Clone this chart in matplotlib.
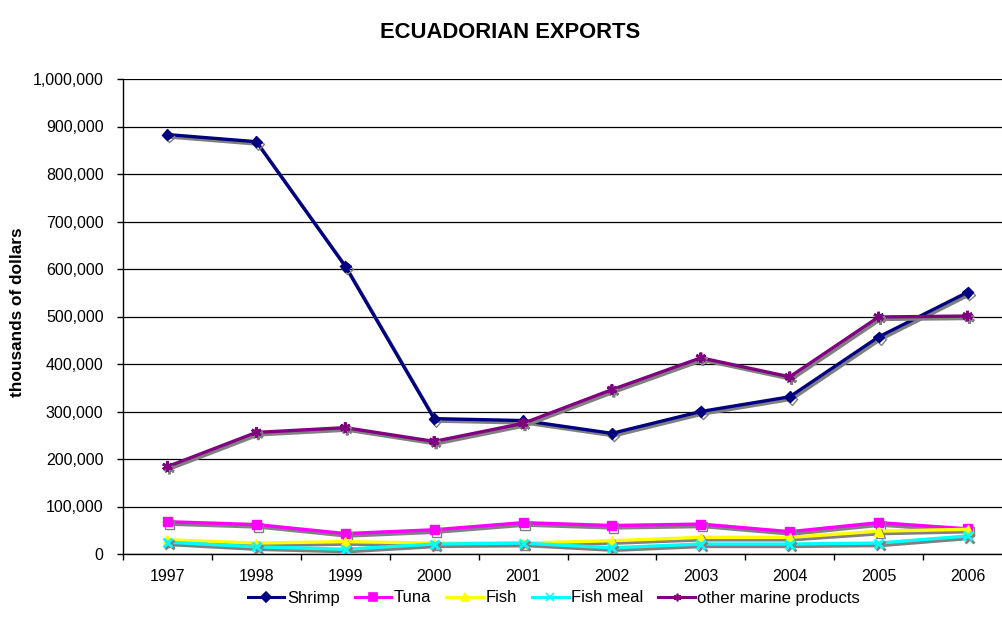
import matplotlib.pyplot as plt
import matplotlib.patheffects as pe
from matplotlib.ticker import FuncFormatter, MultipleLocator, FixedLocator

plt.rcParams['font.family'] = ['Liberation Sans', 'DejaVu Sans']

# Export values, thousands of dollars
years = ['1997', '1998', '1999', '2000', '2001', '2002', '2003', '2004', '2005', '2006']
shrimp = [883000, 868000, 606000, 285000, 281000, 254000, 300000, 331000, 457000, 551000]
tuna = [68000, 62000, 43000, 51000, 66000, 60000, 63000, 47000, 66000, 53000]
fish = [30000, 23000, 26000, 23000, 23000, 28000, 35000, 35000, 48000, 52000]
fish_meal = [25000, 15000, 10000, 21000, 23000, 13000, 21000, 21000, 23000, 38000]
other_marine = [184000, 256000, 266000, 237000, 275000, 346000, 413000, 373000, 499000, 501000]

series = [
    ('Shrimp', shrimp, '#000080', 'D', 5.5),
    ('Tuna', tuna, '#FF00FF', 's', 6.5),
    ('Fish', fish, '#FFFF00', '^', 6.5),
    ('Fish meal', fish_meal, '#00FFFF', 'x', 6.5),
    ('other marine products', other_marine, '#800080', (6, 2, 0), 7.5),
]

fig = plt.figure(figsize=(10.02, 6.18), dpi=100)
ax = fig.add_axes([123 / 1002, 64 / 618, 889 / 1002, 475 / 618])

x = list(range(len(years)))
shadow = [pe.SimpleLineShadow(offset=(1.4, -1.8), shadow_color='#808080', alpha=1.0),
          pe.Normal()]

for name, vals, color, marker, ms in series:
    mew = 2 if marker in ('x', (6, 2, 0)) else 1
    ax.plot(x, vals, color=color, lw=2.4, marker=marker, markersize=ms,
            markeredgewidth=mew, markeredgecolor=color, label=name,
            path_effects=shadow, zorder=3)

ax.set_xlim(-0.5, len(years) - 0.5)
ax.set_ylim(0, 1000000)

ax.yaxis.set_major_locator(MultipleLocator(100000))
ax.yaxis.set_major_formatter(FuncFormatter(lambda v, p: f'{int(v):,}'))
ax.grid(axis='y', color='black', lw=0.9, zorder=1)

ax.set_xticks(x)
ax.set_xticklabels(years)
ax.xaxis.set_minor_locator(FixedLocator([i - 0.5 for i in range(len(years) + 1)]))
ax.tick_params(axis='x', which='major', length=0, pad=11, labelsize=11.5)
ax.tick_params(axis='x', which='minor', length=4, width=1, direction='out')
ax.tick_params(axis='y', length=4, width=1, direction='out', pad=10, labelsize=11.5)

for side in ('top', 'right'):
    ax.spines[side].set_visible(False)
for side in ('left', 'bottom'):
    ax.spines[side].set_linewidth(1)

fig.text(0.509, 1 - 33 / 618, 'ECUADORIAN EXPORTS', ha='center', va='center',
         fontsize=15.8, fontweight='bold')
fig.text(18 / 1002, 1 - 312 / 618, 'thousands of dollars', ha='center', va='center',
         rotation=90, fontsize=12.4, fontweight='bold')

leg = fig.legend(loc='center', bbox_to_anchor=(554 / 1002, 1 - 598 / 618), ncol=5,
                 frameon=False, fontsize=12, handlelength=2.2, handletextpad=0.15,
                 columnspacing=0.9, borderaxespad=0)
# legend keys: plain line with a small marker, no shadow
for h in leg.legend_handles:
    h.set_path_effects([])
    h.set_markersize(5.5)
    h.set_linewidth(2.2)
    h.set_markeredgewidth(1.2)

fig.savefig('out.png', dpi=100)
